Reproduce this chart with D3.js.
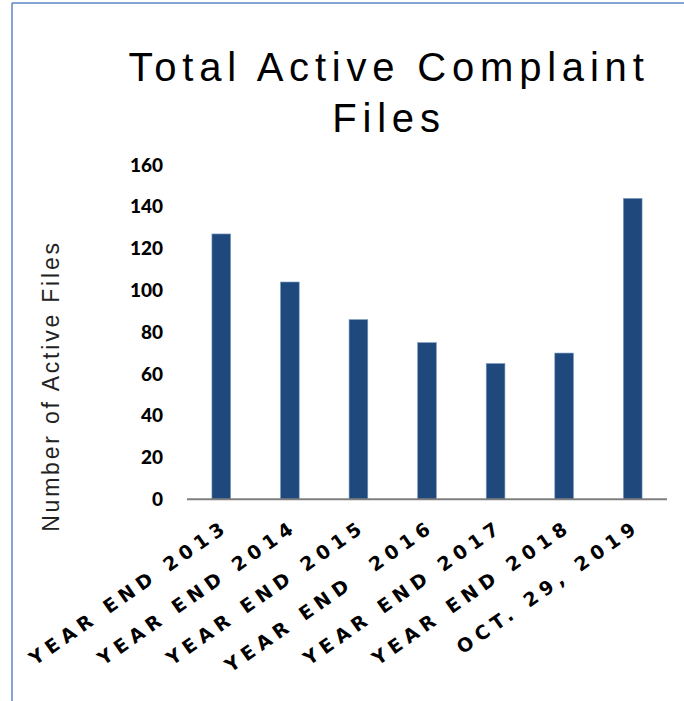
<!DOCTYPE html>
<html>
<head>
<meta charset="utf-8">
<script src="https://cdn.jsdelivr.net/npm/d3@7"></script>
<style>
  body { margin: 0; background: #fff; }
  text { font-family: "Liberation Sans", Arial, sans-serif; }
</style>
</head>
<body>
<div id="chart"></div>
<script>
// chart data
var categories = ["YEAR END 2013", "YEAR END 2014", "YEAR END 2015", "YEAR END  2016", "YEAR END 2017", "YEAR END 2018", "OCT. 29, 2019"];
var activeFiles = [127, 104, 86, 75, 65, 70, 144];
var yTicks = [0, 20, 40, 60, 80, 100, 120, 140, 160];
var titleLines = ["Total Active Complaint", "Files"];

var width = 684, height = 701;
var margin = { top: 165, right: 17, bottom: 202, left: 187 };
var inner_width = width - margin.left - margin.right;
var inner_height = height - margin.top - margin.bottom;

var svg = d3.select("#chart")
            .append("svg")
            .attr("width", width)
            .attr("height", height);

// frame lines (left + top)
svg.append("line")
   .attr("x1", 12).attr("y1", 3).attr("x2", 12).attr("y2", height)
   .style("stroke", "#5b87c5").style("stroke-width", 1.5);
svg.append("line")
   .attr("x1", 12).attr("y1", 3).attr("x2", width).attr("y2", 3)
   .style("stroke", "#5b87c5").style("stroke-width", 1.5);

var g = svg.append("g")
           .attr("transform", "translate(" + margin.left + "," + margin.top + ")");

var x = d3.scaleBand()
          .range([0, inner_width])
          .domain(categories)
          .paddingInner(0.727)
          .paddingOuter(0.3635);

var y = d3.scaleLinear()
          .domain([0, 160])
          .range([inner_height + 0.3, 0]);

// y axis labels only
var yAxis = g.append("g")
             .call(d3.axisLeft(y).tickValues(yTicks).tickSize(0).tickPadding(24));
yAxis.select(".domain").remove();
yAxis.selectAll("text")
     .style("font-family", "Lato, 'Liberation Sans', sans-serif")
     .style("font-size", "19px")
     .style("font-weight", "900")
     .style("fill", "#000");

// bars
g.selectAll(".bar")
 .data(activeFiles)
 .enter()
 .append("rect")
 .attr("class", "bar")
 .attr("x", function(d, i) { return x(categories[i]); })
 .attr("y", function(d) { return y(d); })
 .attr("width", x.bandwidth())
 .attr("height", function(d) { return y(0) - y(d); })
 .style("fill", "#1f497d")
 .style("stroke", "#7f9cc4")
 .style("stroke-width", 0.6);

// x axis line
g.append("line")
 .attr("x1", 0).attr("x2", inner_width)
 .attr("y1", y(0)).attr("y2", y(0))
 .style("stroke", "#7f7f7f").style("stroke-width", 2);

// rotated category labels
g.selectAll(".xlab")
 .data(categories)
 .enter()
 .append("text")
 .attr("class", "xlab")
 .attr("text-anchor", "end")
 .attr("transform", function(d) {
   return "translate(" + (x(d) + x.bandwidth() / 2 + 9) + "," + (y(0) + 30) + ") rotate(-35)";
 })
 .style("font-family", "'DejaVu Sans', sans-serif")
 .style("font-size", "19px")
 .style("font-weight", "bold")
 .style("letter-spacing", "5.5px")
 .style("white-space", "pre")
 .style("fill", "#000")
 .text(function(d) { return d; });

// y axis title
svg.append("text")
   .attr("transform", "translate(59,386) rotate(-90)")
   .attr("text-anchor", "middle")
   .style("font-size", "23px")
   .style("letter-spacing", "2.8px")
   .style("fill", "#222")
   .text("Number of Active Files");

// chart title
svg.selectAll(".title")
   .data(titleLines)
   .enter()
   .append("text")
   .attr("class", "title")
   .attr("x", 389)
   .attr("y", function(d, i) { return 81 + i * 51; })
   .attr("text-anchor", "middle")
   .style("font-size", "40px")
   .style("letter-spacing", "5.8px")
   .style("fill", "#000")
   .text(function(d) { return d; });
</script>
</body>
</html>
